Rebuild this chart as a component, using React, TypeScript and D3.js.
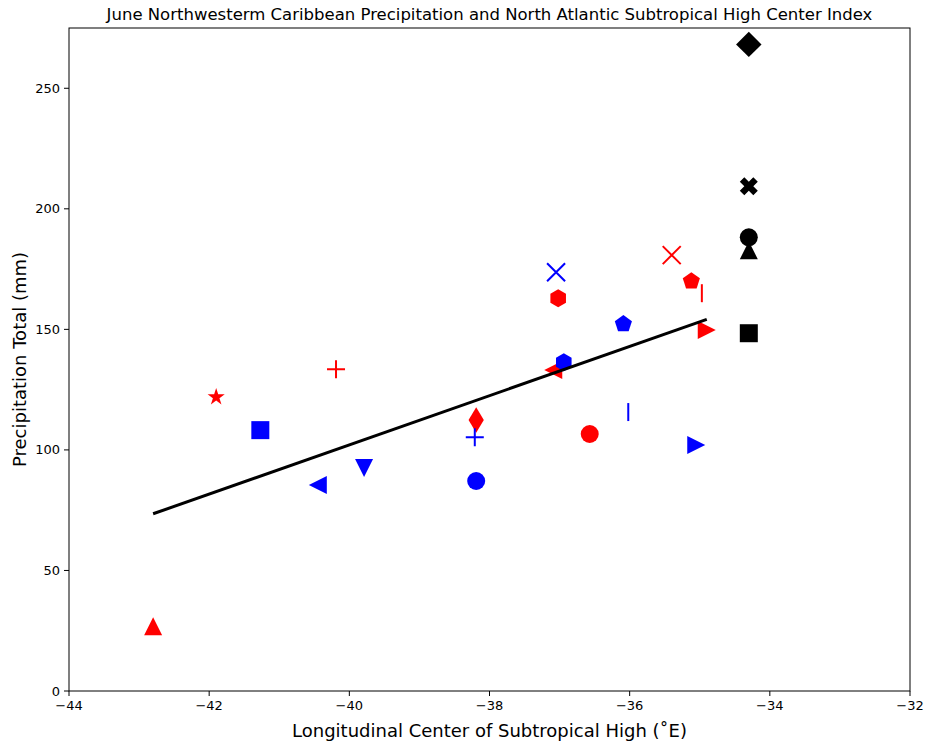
import React from "react";
import * as d3 from "d3";

const W = 927;
const H = 744;
const M = { left: 69, right: 910, top: 28, bottom: 691 };

const titleText =
  "June Northwesterm Caribbean Precipitation and North Atlantic Subtropical High Center Index";
const xLabel = "Longitudinal Center of Subtropical High (˚E)";
const yLabel = "Precipitation Total (mm)";

const xTicks = [-44, -42, -40, -38, -36, -34, -32];
const yTicks = [0, 50, 100, 150, 200, 250];

// red series
const redX = [-42.8, -41.9, -40.19, -38.19, -37.09, -37.02, -36.57, -35.4, -35.12, -34.97, -34.9];
const redY = [26.9, 121.9, 133.5, 112.4, 133.1, 162.9, 106.6, 180.8, 170.0, 165.0, 149.7];
const redM = ["^", "*", "+", "d", "<", "h", "o", "x", "p", "|", ">"];

// blue series
const blueX = [-41.27, -40.45, -39.79, -38.19, -38.21, -37.05, -36.94, -36.09, -36.02, -35.05];
const blueY = [108.2, 85.4, 92.5, 87.1, 105.3, 173.7, 136.4, 152.2, 115.7, 102.0];
const blueM = ["s", "<", "v", "o", "+", "x", "h", "p", "|", ">"];

// black series
const blackX = [-34.3, -34.3, -34.3, -34.3, -34.3];
const blackY = [268.2, 209.4, 182.8, 188.2, 148.4];
const blackM = ["D", "X", "^", "o", "s"];

const S = 18;

function poly(pts: number[][]) {
  return "M" + pts.map((p) => p[0].toFixed(2) + "," + p[1].toFixed(2)).join("L") + "Z";
}
function regPoly(n: number, r: number, rot = 0) {
  const pts: number[][] = [];
  for (let i = 0; i < n; i++) {
    const a = (Math.PI / 2) + (2 * Math.PI * i) / n + rot;
    pts.push([r * Math.cos(a), -r * Math.sin(a)]);
  }
  return poly(pts);
}
function star(r: number) {
  const pts: number[][] = [];
  const ri = r * 0.381966;
  for (let i = 0; i < 10; i++) {
    const a = Math.PI / 2 + (Math.PI * i) / 5;
    const rr = i % 2 === 0 ? r : ri;
    pts.push([rr * Math.cos(a), -rr * Math.sin(a)]);
  }
  return poly(pts);
}

function markerPath(m: string, s: number): { d: string; stroke: boolean } {
  const h = s / 2;
  switch (m) {
    case "o":
      return { d: `M${h},0A${h},${h} 0 1,1 ${-h},0A${h},${h} 0 1,1 ${h},0Z`, stroke: false };
    case "s":
      return { d: poly([[-h, -h], [h, -h], [h, h], [-h, h]]), stroke: false };
    case "^":
      return { d: poly([[0, -h], [-h, h], [h, h]]), stroke: false };
    case "v":
      return { d: poly([[0, h], [-h, -h], [h, -h]]), stroke: false };
    case "<":
      return { d: poly([[-h, 0], [h, -h], [h, h]]), stroke: false };
    case ">":
      return { d: poly([[h, 0], [-h, -h], [-h, h]]), stroke: false };
    case "D": {
      const r = h * Math.SQRT2;
      return { d: poly([[0, -r], [r, 0], [0, r], [-r, 0]]), stroke: false };
    }
    case "d": {
      const r = h * Math.SQRT2;
      return { d: poly([[0, -r], [r * 0.6, 0], [0, r], [-r * 0.6, 0]]), stroke: false };
    }
    case "p":
      return { d: regPoly(5, h), stroke: false };
    case "h":
      return { d: regPoly(6, h), stroke: false };
    case "*":
      return { d: star(h), stroke: false };
    case "+":
      return { d: `M${-h},0L${h},0M0,${-h}L0,${h}`, stroke: true };
    case "x":
      return { d: `M${-h},${-h}L${h},${h}M${-h},${h}L${h},${-h}`, stroke: true };
    case "|":
      return { d: `M0,${-h}L0,${h}`, stroke: true };
    case "X": {
      const pts = [
        [0.25, 0], [0.5, -0.25], [0.25, -0.5], [0, -0.25],
        [-0.25, -0.5], [-0.5, -0.25], [-0.25, 0], [-0.5, 0.25],
        [-0.25, 0.5], [0, 0.25], [0.25, 0.5], [0.5, 0.25],
      ].map((p) => [p[0] * s, -p[1] * s]);
      return { d: poly(pts), stroke: false };
    }
  }
  return { d: "", stroke: false };
}

export default function App() {
  const x = d3.scaleLinear().domain([-44, -32]).range([M.left, M.right]);
  const y = d3.scaleLinear().domain([0, 275]).range([M.bottom, M.top]);

  const fitX = [...redX, ...blueX];
  const fitY = [...redY, ...blueY];
  const mx = d3.mean(fitX)!;
  const my = d3.mean(fitY)!;
  let num = 0;
  let den = 0;
  fitX.forEach((v, i) => {
    num += (v - mx) * (fitY[i] - my);
    den += (v - mx) * (v - mx);
  });
  const slope = num / den;
  const icpt = my - slope * mx;
  const x0 = d3.min(fitX)!;
  const x1 = d3.max(fitX)!;
  const line = d3.line<number>().x((d) => x(d)).y((d) => y(slope * d + icpt));

  const renderSeries = (xs: number[], ys: number[], ms: string[], color: string, key: string) =>
    xs.map((xv, i) => {
      const mp = markerPath(ms[i], S);
      return (
        <path
          key={key + i}
          d={mp.d}
          transform={`translate(${x(xv)},${y(ys[i])})`}
          fill={mp.stroke ? "none" : color}
          stroke={mp.stroke ? color : "none"}
          strokeWidth={mp.stroke ? 2 : 0}
        />
      );
    });

  const font = "DejaVu Sans, sans-serif";

  return (
    <svg
      width={W}
      height={H}
      style={{ position: "absolute", left: 0, top: 0, background: "#fff" }}
      fontFamily={font}
    >
      <rect x={0} y={0} width={W} height={H} fill="#fff" />
      <text
        x={(M.left + M.right) / 2}
        y={20}
        textAnchor="middle"
        fontSize={16.5}
        fill="#000"
      >
        {titleText}
      </text>
      {xTicks.map((t) => (
        <g key={"xt" + t}>
          <line x1={x(t)} x2={x(t)} y1={M.bottom} y2={M.bottom + 5} stroke="#000" strokeWidth={1} />
          <text x={x(t)} y={M.bottom + 19} textAnchor="middle" fontSize={13} fill="#000">
            {t < 0 ? "\u2212" + Math.abs(t) : t}
          </text>
        </g>
      ))}
      {yTicks.map((t) => (
        <g key={"yt" + t}>
          <line x1={M.left - 5} x2={M.left} y1={y(t)} y2={y(t)} stroke="#000" strokeWidth={1} />
          <text x={M.left - 9} y={y(t) + 4.5} textAnchor="end" fontSize={13} fill="#000">
            {t}
          </text>
        </g>
      ))}
      <text x={(M.left + M.right) / 2} y={737} textAnchor="middle" fontSize={18} fill="#000">
        {xLabel}
      </text>
      <text
        transform={`translate(26,${(M.top + M.bottom) / 2}) rotate(-90)`}
        textAnchor="middle"
        fontSize={18}
        fill="#000"
      >
        {yLabel}
      </text>
      {renderSeries(redX, redY, redM, "#ff0000", "r")}
      {renderSeries(blueX, blueY, blueM, "#0000ff", "b")}
      {renderSeries(blackX, blackY, blackM, "#000000", "k")}
      <path d={line([x0, x1]) || ""} fill="none" stroke="#000" strokeWidth={3} />
      <rect
        x={M.left}
        y={M.top}
        width={M.right - M.left}
        height={M.bottom - M.top}
        fill="none"
        stroke="#000"
        strokeWidth={1}
      />
    </svg>
  );
}
